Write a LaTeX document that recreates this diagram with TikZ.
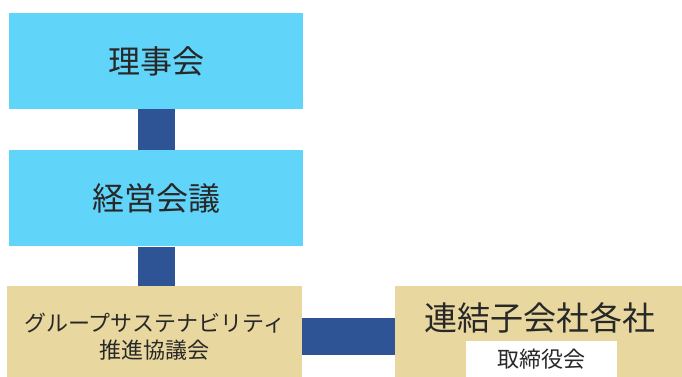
\documentclass[tikz,border=0pt]{standalone}
\usepackage{fontspec}
\usepackage{tikz}
\usetikzlibrary{positioning}
\newfontfamily\jpfont{Noto Sans CJK JP}
\definecolor{boardcolor}{RGB}{97,212,250}
\definecolor{groupcolor}{RGB}{233,215,160}
\definecolor{linkcolor}{RGB}{46,84,150}
\definecolor{textcolor}{RGB}{40,40,40}

\begin{document}
\begin{tikzpicture}[%
    x=1pt, y=1pt,               % Work in points, like the screen
    node distance=41pt,         % Gap between the upper boxes
    ]
\tikzset{
  base/.style={inner sep=0pt, align=center, text=textcolor, font=\jpfont},
  upper/.style={base, fill=boardcolor, minimum width=294pt, minimum height=96pt},
  group/.style={base, fill=groupcolor, anchor=north west, minimum height=101pt},
  sub/.style={base, fill=white, minimum width=151pt, minimum height=36pt, anchor=north},
  link/.style={draw=linkcolor, line width=37pt},
}
\useasboundingbox (0,0) rectangle (682,376);

\node [upper, font=\jpfont\fontsize{32}{36}\selectfont] (board) at (156,315) {理事会};
\node [upper, below=of board, font=\jpfont\fontsize{32}{36}\selectfont] (mgmt) {経営会議};

\node [group, minimum width=295pt,
       font=\jpfont\fontsize{22}{27}\selectfont] (promo) at (7,90)
      {グループサステナビリティ\\推進協議会};
\node [group, minimum width=290pt] (subs) at (395,90) {};
\node [base, font=\jpfont\fontsize{33}{36}\selectfont] (subsname) at ([yshift=-32pt]subs.north) {連結子会社各社};
\node [sub, font=\jpfont\fontsize{22}{24}\selectfont] (subsboard) at (541.5,35) {取締役会};

%connect
\draw [link] (board.south) -- (mgmt.north);
\draw [link] (mgmt.south) -- (mgmt.south |- promo.north);
\draw [link] (promo.east |- subs.west) -- (subs.west);

\end{tikzpicture}
\end{document}
